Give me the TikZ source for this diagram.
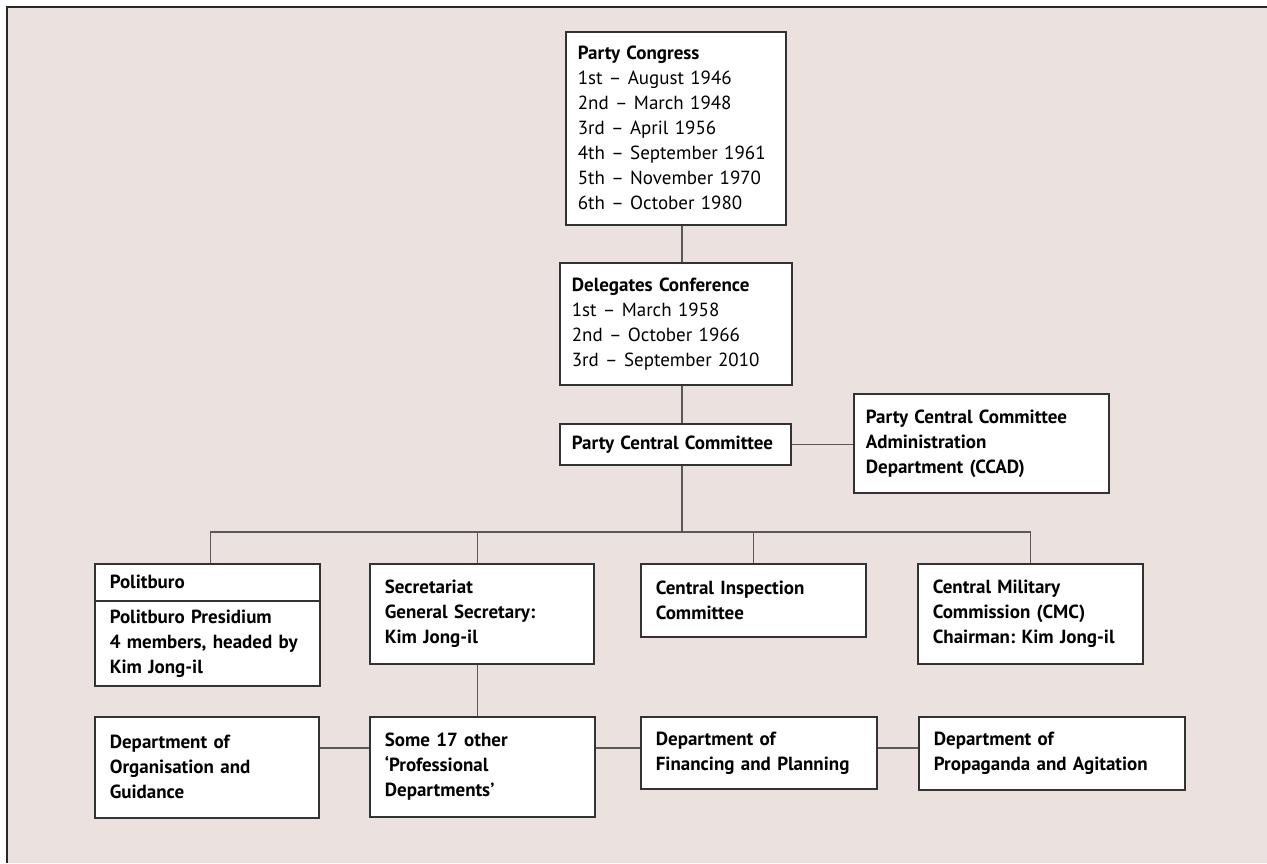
\documentclass[tikz,border=0pt]{standalone}
\usepackage{fontspec}
\setmainfont{PT Sans}
\frenchspacing
\usetikzlibrary{positioning}

\definecolor{bgpaper}{RGB}{235,226,223}
\definecolor{frameline}{RGB}{40,40,40}

\tikzstyle{box}=[rectangle,
    draw=black!80,
    line width=0.8pt,
    fill=white,
    anchor=north west,
    align=left,
    inner xsep=7.5pt,
    inner ysep=0pt,
    font=\fontsize{9.5}{12.5}\selectfont\bfseries]
\tikzstyle{topbox}=[box, inner xsep=6pt]
\tikzstyle{link}=[draw=black!65, line width=0.6pt]

\begin{document}
\begin{tikzpicture}[x=0.5pt,y=-0.5pt]
                \useasboundingbox (0,0) rectangle (1267,863);
                \fill[bgpaper] (7,7) rectangle (1267,863);
                \draw[frameline, line width=0.9pt] (7,863) -- (7,7) -- (1267,7);
                % upper chain
                \node (congress) [topbox, text width=98pt, minimum height=96.5pt] at (565,31)
                    {Party Congress\\\mdseries 1st – August 1946\\2nd – March 1948\\3rd – April 1956\\4th – September 1961\\5th – November 1970\\6th – October 1980};
                \node (delegates) [topbox, text width=104pt, minimum height=61pt] at (559,262)
                    {Delegates Conference\\\mdseries 1st – March 1958\\2nd – October 1966\\3rd – September 2010};
                \node (pcc) [topbox, text width=103.5pt, minimum height=20.5pt] at (559,423)
                    {Party Central Committee};
                \node (ccad) [topbox, text width=115.5pt, minimum height=49.5pt] at (853,393)
                    {Party Central Committee\\Administration\\Department (CCAD)};
                % middle row
                \node (politburo) [box, text width=97.5pt, minimum height=18.5pt] at (94,563)
                    {Politburo};
                \node (presidium) [box, text width=97.5pt, minimum height=42.5pt] at (94,600)
                    {Politburo Presidium\\4 members, headed by\\Kim Jong-il};
                \node (secretariat) [box, text width=97pt, minimum height=50pt] at (369,563)
                    {Secretariat\\General Secretary:\\Kim Jong-il};
                \node (inspection) [box, text width=97.5pt, minimum height=36.5pt] at (640,563)
                    {Central Inspection\\Committee};
                \node (cmc) [box, text width=97.5pt, minimum height=50pt] at (917,563)
                    {Central Military\\Commission (CMC)\\Chairman: Kim Jong-il};
                % bottom row
                \node (org) [box, text width=97pt, minimum height=50.5pt] at (94,716)
                    {Department of\\Organisation and\\Guidance};
                \node (profdept) [box, text width=97.5pt, minimum height=50pt] at (369,716)
                    {Some 17 other\\‘Professional\\Departments’};
                \node (financing) [box, text width=103pt, minimum height=36pt] at (640,716)
                    {Department of\\Financing and Planning};
                \node (propaganda) [box, text width=118pt, minimum height=36.5pt] at (918,716)
                    {Department of\\Propaganda and Agitation};
                % connectors
                \coordinate (spine) at (682,0);
                \coordinate (bus) at (0,532);
                \coordinate (deptrow) at (0,748);
                \draw [link] (spine |- congress.south) -- (spine |- delegates.north);
                \draw [link] (spine |- delegates.south) -- (spine |- pcc.north);
                \draw [link] (pcc.east) -- (ccad.west |- pcc.east);
                \draw [link] (spine |- pcc.south) -- (spine |- bus);
                \draw [link] ([xshift=1.5pt]politburo.north) |- (bus -| cmc.north) -- (cmc.north);
                \draw [link] ([xshift=-2pt]secretariat.north) -- ([xshift=-2pt]secretariat.north |- bus);
                \draw [link] (inspection.north) -- (inspection.north |- bus);
                \draw [link] ([xshift=-2pt]secretariat.south) -- ([xshift=-2pt]secretariat.south |- profdept.north);
                \draw [link] (org.east |- deptrow) -- (profdept.west |- deptrow);
                \draw [link] (profdept.east |- deptrow) -- (financing.west |- deptrow);
                \draw [link] (financing.east |- deptrow) -- (propaganda.west |- deptrow);
            \end{tikzpicture}
\end{document}
